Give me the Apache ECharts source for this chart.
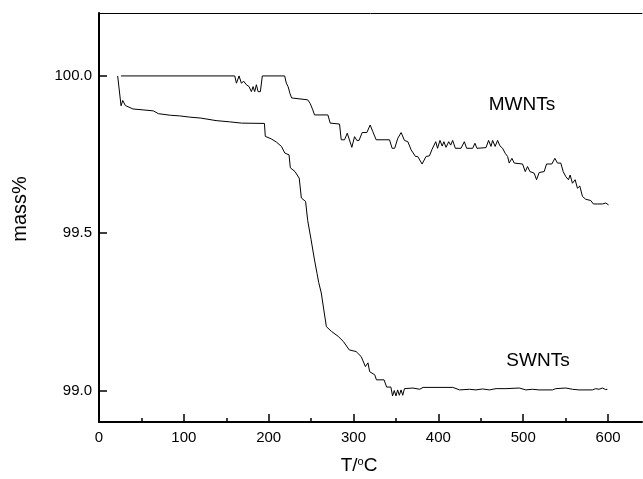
<!DOCTYPE html>
<html>
<head>
<meta charset="utf-8">
<script src="https://cdn.jsdelivr.net/npm/echarts@6/dist/echarts.min.js"></script>
<style>html,body{margin:0;padding:0;background:#fff;}#c{width:643px;height:479px;}</style>
</head>
<body>
<div id="c"></div>
<script>
// Temperatures (°C) and mass (%) for each sample
const swT = [22,24,26,28,31,40,52,64,70,72,84,95,107,120,138,154,168,195,196,203,209,215,219,224,225.5,231,236,238.5,243.5,246,250,254,257,259,262,265,268,274,282,288,295,303,309,314,317,319,325,327,336,339,344,346,348,350,352,354,356,358,360,370,378,382,417,425,436.5,444.3,452.2,460,468,479.6,495.3,503.1,511,518.8,534.5,538.4,550.2,558,565.9,581.6,585.5,589.4,593.3,597.3,599.2];
const swM = [100.00,99.995,99.905,99.922,99.906,99.895,99.892,99.889,99.880,99.876,99.875,99.873,99.869,99.866,99.858,99.854,99.850,99.849,99.808,99.800,99.790,99.776,99.755,99.749,99.708,99.696,99.675,99.612,99.601,99.540,99.479,99.415,99.372,99.343,99.310,99.256,99.203,99.188,99.172,99.156,99.129,99.124,99.108,99.076,99.088,99.060,99.050,99.034,99.034,99.011,99.011,98.983,99.000,98.983,99.002,98.985,99.002,98.985,99.006,99.008,99.004,99.010,99.010,99.002,99.004,99.002,99.005,99.002,99.006,99.006,99.008,99.002,99.004,99.002,99.002,99.006,99.008,99.004,99.002,99.002,99.006,99.004,99.008,99.003,99.004];

const mwT = [26,160,162,165.1,167.8,170.6,173.7,176.9,179.6,181.6,183.5,185.5,187.5,190.2,192.5,218.8,220.8,223,225,227,229,246,249,250,252,254,269.8,272.5,283.5,285.5,289.4,292.6,298,301.2,303.9,306.5,310.2,315.7,319.6,322.7,326.7,342.4,345.5,348.5,352.2,356.1,360,364,367.9,373,375.6,380.8,385.5,389.5,392.6,394.5,396.9,399,401.9,404.5,406.5,409,412.2,414.5,416.8,420,426.7,430.6,433.3,440.4,443.1,445.5,456.1,459.2,462,463.9,466.9,469.8,472.5,475.7,478.8,481.6,483.5,486.7,489.4,499.2,502.4,505.1,507.9,510.2,512.9,515.7,518.8,524.7,527.5,533.7,537.3,540.4,544.3,547.1,550.2,553.3,555.3,558,561.2,563.9,566.7,569.8,573.7,579.6,582.7,587.5,589,593.3,597.3,600.6];
const mwM = [100.0,100.0,99.977,100.0,99.977,99.983,99.972,99.966,99.950,99.966,99.950,99.972,99.950,99.950,100.0,100.0,99.977,99.965,99.945,99.930,99.924,99.924,99.912,99.905,99.892,99.876,99.876,99.850,99.847,99.797,99.797,99.818,99.773,99.807,99.795,99.795,99.820,99.820,99.844,99.823,99.797,99.797,99.770,99.770,99.802,99.820,99.795,99.791,99.765,99.744,99.744,99.720,99.744,99.746,99.767,99.770,99.791,99.770,99.795,99.777,99.791,99.773,99.791,99.780,99.795,99.770,99.770,99.791,99.770,99.770,99.786,99.770,99.772,99.795,99.776,99.795,99.776,99.795,99.778,99.770,99.754,99.744,99.723,99.738,99.723,99.720,99.696,99.712,99.696,99.693,99.691,99.670,99.693,99.696,99.720,99.720,99.738,99.723,99.723,99.696,99.680,99.670,99.685,99.659,99.670,99.643,99.650,99.617,99.608,99.604,99.593,99.593,99.596,99.593,99.596,99.590];

const xMajor = [0,100,200,300,400,500,600];
const xMinor = [50,150,250,350,450,550];
const yMajor = [99.0,99.5,100.0];
const seriesNames = ['SWNTs','MWNTs'];

const zip = (a,b) => a.map((v,i)=>[v,b[i]]);
const FONT = '"Liberation Sans", Arial, sans-serif';

const chart = echarts.init(document.getElementById('c'), null, {renderer:'canvas'});
chart.setOption({
  animation:false,
  backgroundColor:'#fff',
  grid:{left:99,right:1,top:13,bottom:57,containLabel:false},
  xAxis:[
    {type:'value',min:0,max:640,position:'bottom',
     axisLine:{show:true,lineStyle:{color:'#000',width:2}},
     axisTick:{show:true,inside:true,length:8,customValues:xMajor,lineStyle:{color:'#000',width:1.5}},
     axisLabel:{show:true,customValues:xMajor,color:'#000',fontSize:15,fontFamily:FONT,margin:8},
     splitLine:{show:false}},
    {type:'value',min:0,max:640,position:'bottom',gridIndex:0,
     axisLine:{show:false},
     axisTick:{show:true,inside:true,length:4,customValues:xMinor,lineStyle:{color:'#000',width:1.5}},
     axisLabel:{show:false},splitLine:{show:false}},
    {type:'value',min:0,max:640,position:'top',gridIndex:0,
     axisLine:{show:true,lineStyle:{color:'#000',width:1}},
     axisTick:{show:false},axisLabel:{show:false},splitLine:{show:false}}
  ],
  yAxis:[
    {type:'value',min:98.9,max:100.2,position:'left',
     axisLine:{show:true,lineStyle:{color:'#000',width:2}},
     axisTick:{show:true,inside:true,length:8,customValues:yMajor,lineStyle:{color:'#000',width:1.5}},
     axisLabel:{show:true,customValues:yMajor,color:'#000',fontSize:15,fontFamily:FONT,margin:7,
       formatter:v=>Number(v).toFixed(1)},
     splitLine:{show:false}},
    {type:'value',min:98.9,max:100.2,position:'right',gridIndex:0,
     axisLine:{show:true,lineStyle:{color:'#000',width:1}},
     axisTick:{show:false},axisLabel:{show:false},splitLine:{show:false}}
  ],
  series:[
    {name:seriesNames[0],type:'line',xAxisIndex:0,yAxisIndex:0,data:zip(swT,swM),
     showSymbol:false,symbol:'none',lineStyle:{color:'#000',width:1}},
    {name:seriesNames[1],type:'line',xAxisIndex:0,yAxisIndex:0,data:zip(mwT,mwM),
     showSymbol:false,symbol:'none',lineStyle:{color:'#000',width:1}}
  ],
  graphic:[
    {type:'text',x:20,y:209,rotation:Math.PI/2,
     style:{text:'mass%',font:'20px '+FONT,fill:'#000',align:'center',verticalAlign:'middle'}},
    {type:'text',x:359,y:466,
     style:{text:'{n|T/}{s|o}{n|C}',fill:'#000',align:'center',verticalAlign:'middle',
       rich:{n:{fontSize:19,fontFamily:FONT,lineHeight:20,fill:'#000'},
             s:{fontSize:11,fontFamily:FONT,lineHeight:11,verticalAlign:'top',fill:'#000'}}}},
    {type:'text',x:522,y:105,
     style:{text:seriesNames[1],font:'19px '+FONT,fill:'#000',align:'center',verticalAlign:'middle'}},
    {type:'text',x:538,y:361,
     style:{text:seriesNames[0],font:'19px '+FONT,fill:'#000',align:'center',verticalAlign:'middle'}}
  ]
});
</script>
</body>
</html>
